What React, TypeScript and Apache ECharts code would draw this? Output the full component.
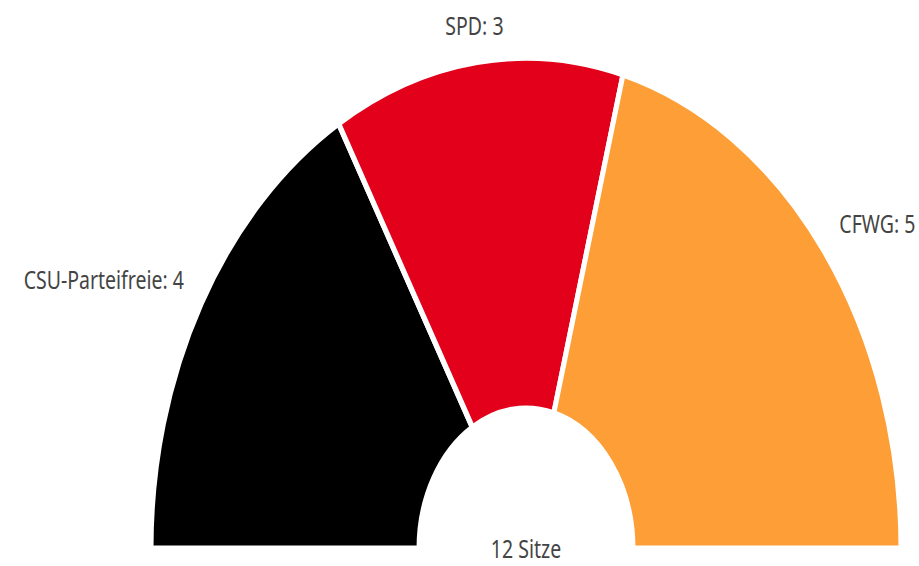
import React, { useEffect, useRef } from "react";
import * as echarts from "echarts";

const parties = ["CSU-Parteifreie", "SPD", "CFWG"];
const seats = [4, 3, 5];
const colors = ["#000000", "#e2001a", "#fd9e36"];
const totalLabel = "12 Sitze";

const STRETCH = 1.31;
const CX = 526;
const CY = 419;
const R_OUT = 375;
const R_IN = 107;
const LABEL_R = 395;
const LABEL_DY = -8;
const FONT = 19.5;

export default function App() {
  const ref = useRef<HTMLDivElement>(null);
  useEffect(() => {
    if (!ref.current) return;
    const chart = echarts.init(ref.current, undefined, { renderer: "svg" });
    const total = seats.reduce((a, b) => a + b, 0);
    const mids: number[] = [];
    let acc = 0;
    seats.forEach((v) => {
      const start = 180 - (acc / total) * 180;
      acc += v;
      const end = 180 - (acc / total) * 180;
      mids.push((start + end) / 2);
    });
    chart.setOption({
      animation: false,
      backgroundColor: "#ffffff",
      graphic: [
        {
          type: "text",
          x: CX,
          y: 419,
          style: {
            text: totalLabel,
            fontFamily: "Noto Sans",
            fontSize: FONT,
            fill: "#444444",
            textAlign: "center",
            textVerticalAlign: "middle",
          },
        },
      ],
      series: [
        {
          type: "pie",
          center: [CX, CY],
          radius: [R_IN, R_OUT],
          startAngle: 180,
          endAngle: 0,
          clockwise: true,
          silent: true,
          itemStyle: { borderColor: "#ffffff", borderWidth: 5 },
          label: {
            show: true,
            position: "outside",
            formatter: "{b}: {c}",
            fontFamily: "Noto Sans",
            fontSize: FONT,
            color: "#444444",
            overflow: "none",
            edgeDistance: 0,
          },
          labelLine: { show: false },
          labelLayout: (params: any) => {
            const a = (mids[params.dataIndex] * Math.PI) / 180;
            const c = Math.cos(a);
            const x = CX + LABEL_R * c;
            const y = CY - LABEL_R * Math.sin(a) + LABEL_DY;
            const align = Math.abs(c) < 0.3 ? "center" : c > 0 ? "left" : "right";
            return { x, y, align, verticalAlign: "middle", width: 300 };
          },
          data: parties.map((p, i) => ({
            name: p,
            value: seats[i],
            itemStyle: { color: colors[i] },
          })),
        },
      ],
    });
    return () => chart.dispose();
  }, []);
  return (
    <div
      style={{
        position: "absolute",
        left: 0,
        top: 0,
        width: 919,
        height: 566,
        overflow: "hidden",
        background: "#ffffff",
      }}
    >
      <div
        ref={ref}
        style={{
          width: 919,
          height: Math.round(566 / STRETCH),
          transform: `scaleY(${STRETCH})`,
          transformOrigin: "0 0",
        }}
      />
    </div>
  );
}
